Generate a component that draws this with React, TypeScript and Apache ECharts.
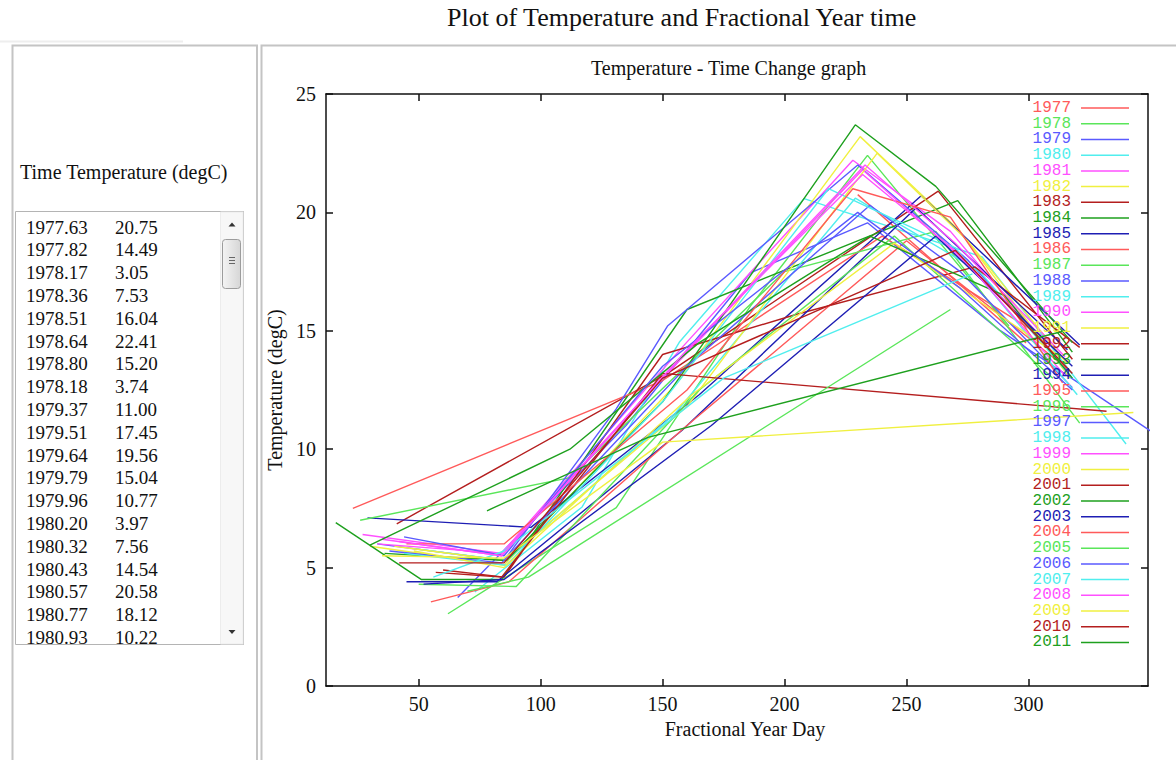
import React, { useEffect, useRef } from "react";
import * as echarts from "echarts";

const YEARS = [
  "1977", "1978", "1979", "1980", "1981", "1982", "1983", "1984", "1985",
  "1986", "1987", "1988", "1989", "1990", "1991", "1992", "1993", "1994",
  "1995", "1996", "1997", "1998", "1999", "2000", "2001", "2002", "2003",
  "2004", "2005", "2006", "2007", "2008", "2009", "2010", "2011",
];

const PALETTE = [
  "#ff5a5a", "#5ae65a", "#5a5aff", "#50eeee", "#ff50ff",
  "#f0f040", "#b41e1e", "#1ea01e", "#1e1eb4",
];

// [fractional year day, temperature degC]
const d1977 = [[230, 20.75], [299, 14.49]];
const d1978 = [[62, 3.05], [131, 7.53], [186, 16.04], [234, 22.41], [292, 15.2]];
const d1979 = [[66, 3.74], [135, 11.0], [186, 17.45], [234, 19.56], [288, 15.04], [350, 10.77]];
const d1980 = [[73, 3.97], [117, 7.56], [157, 14.54], [208, 20.58], [281, 18.12], [340, 10.22]];
const d1981 = [[27, 6.4], [84, 5.6], [158, 14.3], [228, 22.2], [268, 19.2], [314, 13.6]];
const d1982 = [[30, 5.9], [85, 5.1], [156, 12.8], [231, 23.2], [272, 19.2], [317, 13.0]];
const d1983 = [[41, 6.85], [152, 13.2], [263, 20.9], [318, 13.8]];
const d1984 = [[16, 6.9], [51, 4.5], [84, 4.5], [160, 15.9], [271, 20.5], [318, 14.1]];
const d1985 = [[29, 7.1], [96, 6.7], [165, 12.3], [256, 20.7], [321, 14.4]];
const d1986 = [[23, 7.5], [150, 12.9], [240, 19.0], [305, 14.8]];
const d1987 = [[26, 7.0], [112, 8.8], [200, 17.5], [262, 19.2], [321, 11.1]];
const d1988 = [[33, 6.0], [85, 5.3], [131, 11.7], [152, 15.2], [230, 22.0], [275, 18.0], [316, 13.3]];
const d1989 = [[48, 5.8], [86, 5.3], [155, 11.5], [229, 20.6], [280, 17.5], [318, 13.0]];
const d1990 = [[35, 6.2], [84, 5.5], [150, 13.0], [232, 21.8], [268, 18.5], [313, 14.0]];
const d1991 = [[40, 5.9], [85, 5.3], [160, 11.8], [238, 22.5], [275, 18.8], [316, 13.6]];
const d1992 = [[60, 4.9], [85, 4.6], [150, 14.0], [205, 15.7], [278, 17.7], [321, 14.3]];
const d1993 = [[36, 5.6], [86, 5.3], [150, 12.0], [229, 23.7], [262, 21.1], [318, 14.5]];
const d1994 = [[45, 4.4], [82, 4.4], [158, 10.8], [254, 20.2], [316, 14.2]];
const d1995 = [[55, 3.55], [87, 4.4], [160, 11.0], [250, 18.8], [316, 13.4]];
const d1996 = [[50, 4.3], [90, 4.2], [165, 12.5], [245, 19.0], [310, 13.0]];
const d1997 = [[38, 5.7], [84, 5.2], [160, 13.5], [235, 20.3], [272, 17.5], [318, 12.6]];
const d1998 = [[44, 5.6], [86, 5.1], [150, 12.0], [218, 21.0], [270, 18.5], [320, 12.3]];
const d1999 = [[33, 6.0], [84, 5.6], [155, 13.6], [233, 22.0], [270, 18.7], [315, 13.9]];
const d2000 = [[48, 5.7], [85, 5.0], [162, 12.3], [245, 18.7], [316, 13.7]];
const d2001 = [[57, 4.8], [84, 4.6], [150, 13.2], [332, 11.6]];
const d2002 = [[30, 5.95], [112, 10.0], [165, 14.5], [235, 19.0], [290, 16.5], [318, 13.0]];
const d2003 = [[52, 4.3], [85, 4.5], [170, 11.0], [262, 19.0], [318, 13.5]];
const d2004 = [[45, 6.0], [85, 6.0], [160, 12.5], [228, 21.0], [268, 19.8], [314, 12.8]];
const d2005 = [[70, 4.0], [95, 4.6], [268, 15.9]];
const d2006 = [[44, 6.3], [85, 5.5], [150, 13.5], [230, 20.0], [272, 16.8], [318, 12.5]];
const d2007 = [[56, 4.6], [85, 5.7], [175, 13.0], [277, 17.4]];
const d2008 = [[42, 6.1], [84, 5.5], [160, 14.2], [232, 21.6], [272, 18.2], [315, 13.1]];
const d2009 = [[35, 5.5], [85, 5.4], [150, 10.3], [343, 11.55]];
const d2010 = [[42, 5.2], [85, 5.2], [150, 13.0], [270, 18.4], [318, 13.2]];
const d2011 = [[78, 7.4], [144, 10.5], [315, 15.0]];

const SERIES_POINTS = [
  d1977, d1978, d1979, d1980, d1981, d1982, d1983, d1984, d1985,
  d1986, d1987, d1988, d1989, d1990, d1991, d1992, d1993, d1994,
  d1995, d1996, d1997, d1998, d1999, d2000, d2001, d2002, d2003,
  d2004, d2005, d2006, d2007, d2008, d2009, d2010, d2011,
];

const TABLE_TIMES = [
  "1977.63", "1977.82", "1978.17", "1978.36", "1978.51", "1978.64", "1978.80",
  "1978.18", "1979.37", "1979.51", "1979.64", "1979.79", "1979.96", "1980.20",
  "1980.32", "1980.43", "1980.57", "1980.77", "1980.93",
];
const TABLE_TEMPS = [
  "20.75", "14.49", "3.05", "7.53", "16.04", "22.41", "15.20",
  "3.74", "11.00", "17.45", "19.56", "15.04", "10.77", "3.97",
  "7.56", "14.54", "20.58", "18.12", "10.22",
];

const X_TICKS = [50, 100, 150, 200, 250, 300];

const SERIF = '"Liberation Serif", "Times New Roman", serif';

export default function App() {
  const ref = useRef<HTMLDivElement>(null);

  useEffect(() => {
    const chart = echarts.init(ref.current as HTMLDivElement, null, { renderer: "svg" });

    const graphic: any[] = [];
    // faint strip above the left panel
    graphic.push({ type: "line", silent: true, shape: { x1: 0, y1: 41.5, x2: 183, y2: 41.5 }, style: { stroke: "#eeeeee", lineWidth: 2 } });
    // left panel borders
    graphic.push({ type: "polyline", silent: true, shape: { points: [[12.5, 760], [12.5, 45.5], [257, 45.5], [257, 760]] }, style: { fill: "none", stroke: "#c4c4c4", lineWidth: 2 } });
    // right panel borders
    graphic.push({ type: "polyline", silent: true, shape: { points: [[261.5, 760], [261.5, 45.5], [1176, 45.5]] }, style: { fill: "none", stroke: "#c4c4c4", lineWidth: 2 } });
    // header
    graphic.push({ type: "text", silent: true, x: 20, y: 172, style: { text: "Time Temperature (degC)", font: `20px ${SERIF}`, fill: "#111", verticalAlign: "middle", align: "left" } });
    // list box
    graphic.push({ type: "rect", silent: true, shape: { x: 15.5, y: 211.5, width: 228, height: 433 }, style: { fill: "#ffffff", stroke: "#b4b4b4", lineWidth: 1 } });
    // scroll track
    graphic.push({ type: "rect", silent: true, shape: { x: 220.5, y: 212, width: 22.5, height: 432 }, style: { fill: "#f7f7f7", stroke: "#ececec", lineWidth: 1 } });
    // arrows
    graphic.push({ type: "polygon", silent: true, shape: { points: [[228.5, 226.5], [235.5, 226.5], [232, 222.5]] }, style: { fill: "#333" } });
    graphic.push({ type: "polygon", silent: true, shape: { points: [[228.5, 630], [235.5, 630], [232, 634]] }, style: { fill: "#333" } });
    // thumb
    graphic.push({
      type: "rect", silent: true,
      shape: { x: 222.5, y: 239.5, width: 18, height: 49, r: 3 },
      style: {
        fill: new echarts.graphic.LinearGradient(0, 0, 1, 0, [
          { offset: 0, color: "#f4f4f4" },
          { offset: 1, color: "#d6d6d6" },
        ]),
        stroke: "#9c9c9c", lineWidth: 1,
      },
    });
    [257, 260, 263].forEach((gy) => {
      graphic.push({ type: "line", silent: true, shape: { x1: 229, y1: gy + 0.5, x2: 235, y2: gy + 0.5 }, style: { stroke: "#666", lineWidth: 1 } });
    });
    // rows
    TABLE_TIMES.forEach((t, i) => {
      const y = 227 + i * 22.8;
      graphic.push({ type: "text", silent: true, x: 26, y, style: { text: t, font: `19px ${SERIF}`, fill: "#111", verticalAlign: "middle", align: "left" } });
      graphic.push({ type: "text", silent: true, x: 115, y, style: { text: TABLE_TEMPS[i], font: `19px ${SERIF}`, fill: "#111", verticalAlign: "middle", align: "left" } });
    });

    const axisLine = { show: true, onZero: false, lineStyle: { color: "#111", width: 1.5 } };
    const tick = { show: true, inside: true, length: 7, lineStyle: { color: "#111", width: 1.5 } };

    chart.setOption({
      animation: false,
      backgroundColor: "#ffffff",
      title: [
        {
          text: "Plot of Temperature and Fractional Year time",
          left: 447, top: 4, padding: 0,
          textStyle: { fontFamily: SERIF, fontSize: 26, fontWeight: "normal", color: "#111" },
        },
        {
          text: "Temperature - Time Change graph",
          left: 591, top: 58, padding: 0,
          textStyle: { fontFamily: SERIF, fontSize: 20, fontWeight: "normal", color: "#111" },
        },
      ],
      grid: { left: 326, right: 28, top: 94, bottom: 78, containLabel: false },
      legend: {
        orient: "vertical",
        right: 47,
        top: 100,
        padding: 0,
        align: "right",
        icon: "rect",
        itemWidth: 48,
        itemHeight: 1.5,
        itemGap: -0.28,
        selectedMode: false,
        data: YEARS.map((y, i) => ({ name: y, textStyle: { color: PALETTE[i % 9] } })),
        textStyle: { fontFamily: '"Liberation Mono", "DejaVu Sans Mono", monospace', fontSize: 16, lineHeight: 14, padding: [0, 5, 0, 0] },
      },
      xAxis: [
        {
          type: "value", min: 12, max: 349, position: "bottom",
          name: "Fractional Year Day", nameLocation: "middle", nameGap: 32,
          nameTextStyle: { fontFamily: SERIF, fontSize: 20, color: "#111", padding: [0, 0, 0, 16] },
          axisLine, axisTick: { ...tick, customValues: X_TICKS },
          axisLabel: { customValues: X_TICKS, fontFamily: SERIF, fontSize: 20, color: "#111", margin: 8 },
          splitLine: { show: false },
        },
        {
          type: "value", min: 12, max: 349, position: "top",
          axisLine, axisTick: { ...tick, customValues: X_TICKS },
          axisLabel: { show: false }, splitLine: { show: false },
        },
      ],
      yAxis: [
        {
          type: "value", min: 0, max: 25, interval: 5, position: "left",
          name: "Temperature (degC)", nameLocation: "middle", nameGap: 39,
          nameTextStyle: { fontFamily: SERIF, fontSize: 20, color: "#111" },
          axisLine, axisTick: tick,
          axisLabel: { fontFamily: SERIF, fontSize: 20, color: "#111", margin: 10 },
          splitLine: { show: false },
        },
        {
          type: "value", min: 0, max: 25, interval: 5, position: "right",
          axisLine, axisTick: tick, axisLabel: { show: false }, splitLine: { show: false },
        },
      ],
      series: YEARS.map((y, i) => ({
        name: y,
        type: "line",
        xAxisIndex: 0,
        yAxisIndex: 0,
        data: SERIES_POINTS[i],
        symbol: "none",
        showSymbol: false,
        clip: true,
        silent: true,
        lineStyle: { color: PALETTE[i % 9], width: 1.4 },
        itemStyle: { color: PALETTE[i % 9] },
        emphasis: { disabled: true },
      })),
      graphic,
    });

    return () => chart.dispose();
  }, []);

  return (
    <div
      ref={ref}
      style={{ position: "fixed", left: 0, top: 0, width: 1176, height: 764, background: "#fff" }}
    />
  );
}
